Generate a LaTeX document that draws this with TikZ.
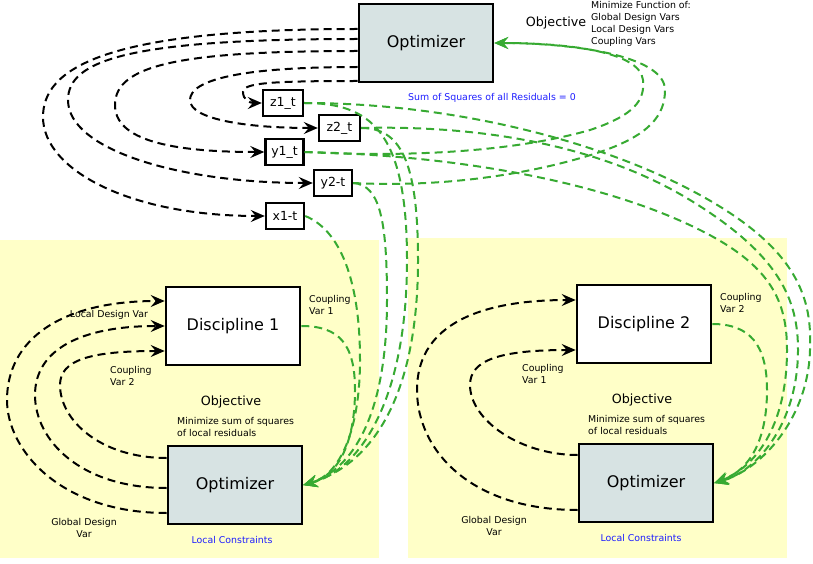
\documentclass[tikz,border=0pt]{standalone}
\usepackage{fontspec}
\setmainfont{DejaVu Sans}
\usetikzlibrary{arrows.meta,calc}
\definecolor{flowgreen}{RGB}{55,170,50}
\definecolor{optfill}{RGB}{215,227,227}
\definecolor{panelyellow}{RGB}{255,255,200}
\definecolor{labelblue}{RGB}{30,30,255}
\begin{document}
\begin{tikzpicture}[x=1pt,y=-1pt,
  bigbox/.style={draw, line width=2.6pt, minimum width=134pt, minimum height=78pt, inner sep=0pt, font=\fontsize{16}{19}\selectfont},
  optbox/.style={bigbox, fill=optfill},
  discbox/.style={bigbox, fill=white},
  tbox/.style={draw, line width=2.4pt, minimum width=38pt, minimum height=26pt, inner sep=1pt, fill=white, font=\fontsize{12.5}{15}\selectfont},
  flow/.style={dash pattern=on 8pt off 5pt, line width=2pt, -{Stealth[length=14pt,width=12pt,inset=5pt]}},
  blackflow/.style={flow, black},
  greenflow/.style={flow, flowgreen},
  small/.style={font=\fontsize{9.4}{12.5}\selectfont, inner sep=0pt},
  smallleft/.style={small, align=left, anchor=west},
  smallcenter/.style={small, align=center},
  bluelabel/.style={small, text=labelblue},
  objlabel/.style={font=\fontsize{12.7}{15}\selectfont, inner sep=0pt}
]
\useasboundingbox (0,0) rectangle (813,564);
% panels
\fill[panelyellow] (0,240) rectangle (379,558);
\fill[panelyellow] (408,238) rectangle (787,558);

% main boxes
\node[optbox] (TopOpt) at (426,43) {Optimizer};
\node[discbox] (Disc1) at (233,326) {Discipline 1};
\node[optbox] (Opt1) at (235,485) {Optimizer};
\node[discbox] (Disc2) at (644,324) {Discipline 2};
\node[optbox] (Opt2) at (646,483) {Optimizer};

% target boxes
\node[tbox, minimum width=40pt] (z1t) at (283,103) {z1\_t};
\node[tbox, minimum width=41pt] (z2t) at (339.5,128) {z2\_t};
\node[tbox] (y1t) at (284.5,152) {y1\_t};
\node[tbox] (y2t) at (333,183) {y2-t};
\node[tbox] (x1t) at (285,216) {x1-t};

% labels top
\node[objlabel] (objtop) at (556,23) {Objective};
\node[smallleft, font=\fontsize{9.4}{12}\selectfont] (mintop) at (591,24) {Minimize Function of:\\Global Design Vars\\Local Design Vars\\Coupling Vars};
\node[bluelabel] (ssq) at (492,98) {Sum of Squares of all Residuals = 0};

% labels left panel
\node[small] (ldv1) at (109,315) {Local Design Var};
\node[smallleft] (cv2a) at (110,376) {Coupling\\Var 2};
\node[smallleft] (cv1a) at (309,305) {Coupling\\Var 1};
\node[objlabel] (obj1) at (231,402) {Objective};
\node[smallleft] (min1) at (177,427) {Minimize sum of squares\\of local residuals};
\node[smallcenter] (gdv1) at (84,528) {Global Design\\Var};
\node[bluelabel] (lc1) at (232,540) {Local Constraints};

% labels right panel
\node[smallleft] (cv2b) at (720,303) {Coupling\\Var 2};
\node[smallleft] (cv1b) at (522,374) {Coupling\\Var 1};
\node[objlabel] (obj2) at (642,400) {Objective};
\node[smallleft] (min2) at (588,425) {Minimize sum of squares\\of local residuals};
\node[smallcenter] (gdv2) at (494,526) {Global Design\\Var};
\node[bluelabel] (lc2) at (641,538) {Local Constraints};

% black flows from top optimizer to targets
\draw[blackflow] ($(TopOpt.west)+(0,-14)$) .. controls (100,29) and (43,70) .. (43,117) .. controls (43,170) and (130,216) .. (x1t.west);
\draw[blackflow] ($(TopOpt.west)+(0,-4)$) .. controls (130,39) and (68,60) .. (68,100) .. controls (68,150) and (180,183) .. (y2t.west);
\draw[blackflow] ($(TopOpt.west)+(0,8)$) .. controls (180,51) and (115,65) .. (115,105) .. controls (115,140) and (170,152) .. (y1t.west);
\draw[blackflow] ($(TopOpt.west)+(0,24)$) .. controls (240,67) and (190,80) .. (190,100) .. controls (190,120) and (250,128) .. (z2t.west);
\draw[blackflow] ($(TopOpt.west)+(0,38)$) .. controls (270,81) and (243,83) .. (243,92) .. controls (243,100) and (250,103) .. (z1t.west);

% black flows left panel
\draw[blackflow] ($(Opt1.west)+(0,28)$) .. controls (60,513) and (7,450) .. (7,400) .. controls (7,340) and (60,301) .. ($(Disc1.west)+(0,-25)$);
\draw[blackflow] ($(Opt1.west)+(0,3)$) .. controls (80,488) and (35,440) .. (35,395) .. controls (35,350) and (80,326) .. (Disc1.west);
\draw[blackflow] ($(Opt1.west)+(0,-27)$) .. controls (100,458) and (60,420) .. (60,385) .. controls (60,360) and (90,351) .. ($(Disc1.west)+(0,25)$);

% black flows right panel
\draw[blackflow] ($(Opt2.west)+(0,27)$) .. controls (470,510) and (417,450) .. (417,390) .. controls (417,330) and (470,300) .. ($(Disc2.west)+(0,-24)$);
\draw[blackflow] ($(Opt2.west)+(0,-28)$) .. controls (520,455) and (470,420) .. (470,385) .. controls (470,360) and (500,350) .. ($(Disc2.west)+(0,26)$);

% green flows to optimizer 1
\draw[greenflow] (x1t.east) .. controls (340,230) and (360,280) .. (360,360) .. controls (360,430) and (340,475) .. (Opt1.east);
\draw[greenflow] (Disc1.east) .. controls (340,326) and (355,345) .. (355,390) .. controls (355,440) and (340,475) .. (Opt1.east);
\draw[greenflow] (y2t.east) .. controls (380,185) and (387,220) .. (387,300) .. controls (387,420) and (350,470) .. (Opt1.east);
\draw[greenflow] (z1t.east) .. controls (370,103) and (407,130) .. (407,260) .. controls (407,400) and (360,470) .. (Opt1.east);
\draw[greenflow] (z2t.east) .. controls (400,128) and (418,160) .. (418,260) .. controls (418,400) and (370,465) .. (Opt1.east);

% green flows to optimizer 2
\draw[greenflow] (Disc2.east) .. controls (750,324) and (767,345) .. (767,390) .. controls (767,440) and (750,470) .. (Opt2.east);
\draw[greenflow] (z1t.east) .. controls (450,103) and (600,140) .. (700,195) .. controls (800,250) and (812,300) .. (810,350) .. controls (808,420) and (760,470) .. (Opt2.east);
\draw[greenflow] (z2t.east) .. controls (480,125) and (600,145) .. (690,200) .. controls (780,255) and (798,300) .. (798,350) .. controls (798,420) and (760,470) .. (Opt2.east);
\draw[greenflow] (y1t.east) .. controls (450,155) and (600,180) .. (700,230) .. controls (770,265) and (787,300) .. (787,350) .. controls (787,420) and (760,465) .. (Opt2.east);

% green flows to top optimizer
\draw[greenflow] (y1t.east) .. controls (420,158) and (520,150) .. (590,130) .. controls (635,115) and (645,100) .. (643,80) .. controls (640,50) and (560,43) .. (TopOpt.east);
\draw[greenflow] (y2t.east) .. controls (450,188) and (540,172) .. (600,152) .. controls (650,135) and (665,115) .. (665,90) .. controls (665,55) and (570,43) .. (TopOpt.east);
\end{tikzpicture}
\end{document}
